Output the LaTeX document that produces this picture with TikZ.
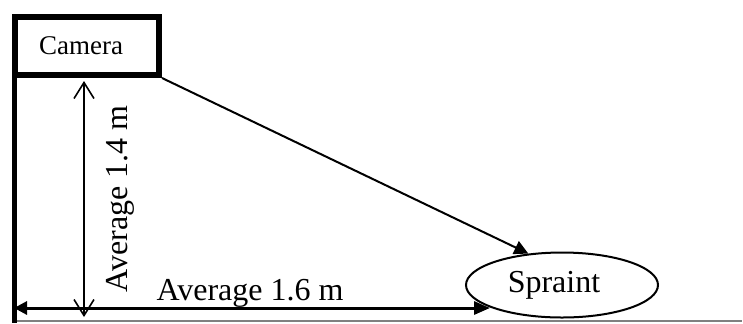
\documentclass[tikz,border=0pt]{standalone}
\usepackage{fontspec}
\setmainfont{Liberation Serif}
\usetikzlibrary{arrows.meta,shapes.geometric}
\begin{document}
\begin{tikzpicture}[x=0.5pt,y=-0.5pt,
 box/.style={draw,line width=3pt,minimum width=72pt,minimum height=29pt,inner sep=0pt,font=\fontsize{13.5}{16}\selectfont},
 blob/.style={draw,ellipse,line width=1pt,minimum width=96pt,minimum height=32.5pt,inner sep=0pt,font=\fontsize{16}{19}\selectfont},
 lbl/.style={inner sep=0pt,font=\fontsize{16}{19}\selectfont},
 fat/.style={line width=1.5pt,{Triangle[length=6.5pt,width=6.5pt]}-{Triangle[length=8pt,width=6.5pt]}},
 slim/.style={line width=0.8pt,{Straight Barb[length=8pt,width=10pt]}-{Straight Barb[length=8pt,width=10pt]}},
 sight/.style={line width=1pt,-{Triangle[length=7pt,width=7pt]}}]
 \useasboundingbox (0,0) rectangle (743,323);
 % ground and wall
 \draw[gray,line width=0.8pt](14,321)--(742,321);
 \draw[line width=2.5pt](14,14)--(14,323);
 % camera and spraint
 \node[box] (cam) at (87,46) {\hspace*{-6pt}Camera};
 \node[blob] (spr) at (562,285) {\hspace*{-8pt}Spraint};
 \coordinate (camfoot) at (84,317);
 \coordinate (wallfoot) at (14,308);
 \coordinate (tip) at (490,308);
 % distances
 \draw[slim,shorten <=1.5pt](cam.south -| camfoot)--(camfoot);
 \draw[fat](wallfoot)--(tip);
 \draw[sight](cam.south east)--(spr.137);
 \node[lbl,rotate=90] (hgt) at (120,199) {Average 1.4 m};
 \node[lbl] (dst) at (250,293) {Average 1.6 m};
\end{tikzpicture}
\end{document}
